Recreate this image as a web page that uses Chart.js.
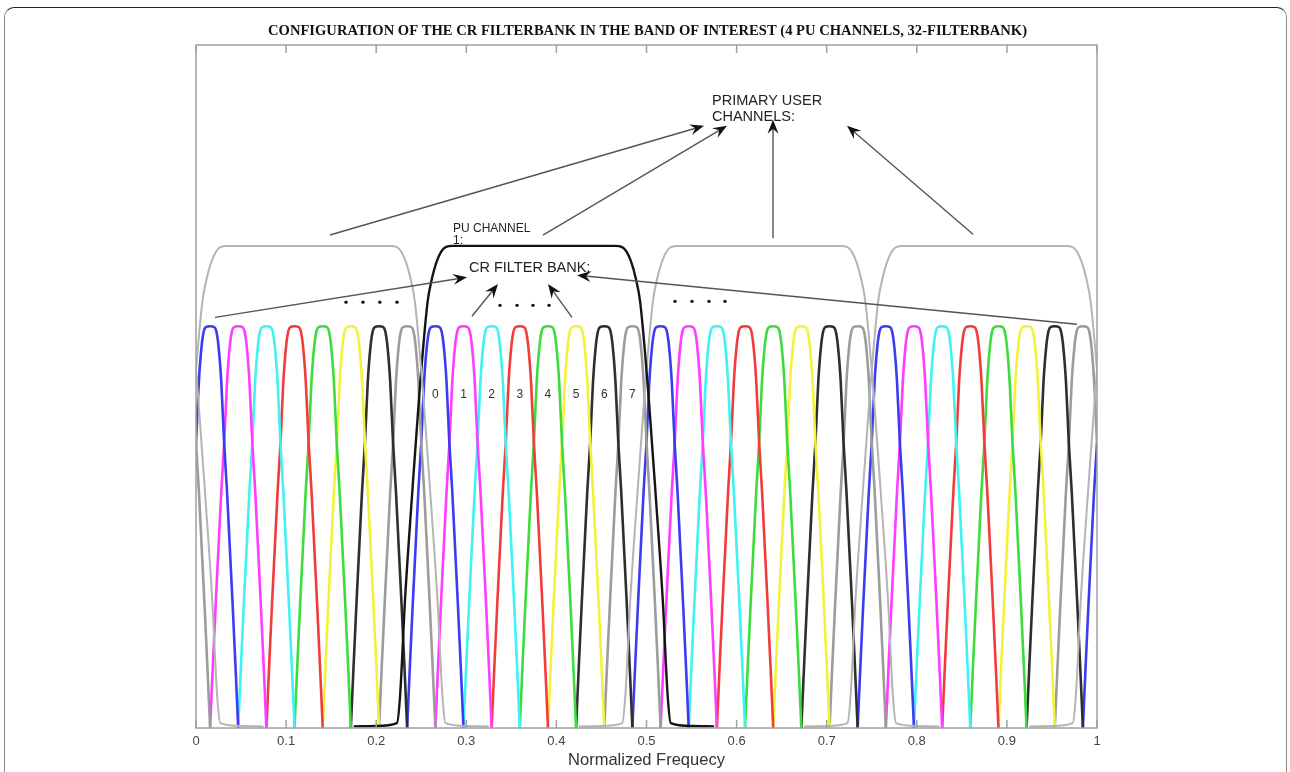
<!DOCTYPE html>
<html>
<head>
<meta charset="utf-8">
<script src="https://cdn.jsdelivr.net/npm/chart.js@4.4.0/dist/chart.umd.min.js"></script>
<style>
  body { margin: 0; background: #fff; overflow: hidden; }
  #frame {
    position: absolute; left: 4px; top: 7px; width: 1283px; height: 800px;
    border: 1.5px solid #8a8a8a; border-top-color: #222; border-radius: 10px;
    box-sizing: border-box;
  }
  #bankChart { position: absolute; left: 0; top: 0; }
</style>
</head>
<body>
<div id="frame"></div>
<canvas id="bankChart" width="1290" height="772"></canvas>
<script>
// CR filterbank: 32 sub-band filters (plus the wrapped neighbours at each edge)
const filterCenters = [-0.0156, 0.0156, 0.0469, 0.0781, 0.1094, 0.1406, 0.1719, 0.2031,
  0.2344, 0.2656, 0.2969, 0.3281, 0.3594, 0.3906, 0.4219, 0.4531,
  0.4844, 0.5156, 0.5469, 0.5781, 0.6094, 0.6406, 0.6719, 0.7031,
  0.7344, 0.7656, 0.7969, 0.8281, 0.8594, 0.8906, 0.9219, 0.9531,
  0.9844, 1.0156];
const filterColors = ['#3b3bf2', '#ff3cff', '#40f2f2', '#f23c3c', '#3cdc3c', '#f2f23c', '#2e2e2e', '#9c9c9c'];

// one side of the sub-band filter magnitude (offset from centre, gain)
const filterOffsets = [0, 0.0047, 0.0069, 0.0094, 0.0125, 0.0156, 0.0188, 0.0219, 0.025, 0.0281, 0.03125];
const filterGains = [1.0, 0.998, 0.988, 0.95, 0.86, 0.71, 0.59, 0.45, 0.31, 0.16, 0.0];

// primary user channels (4 in band, wrapped copies at each edge)
const puCenters = [-0.125, 0.125, 0.375, 0.625, 0.875, 1.125];
const puColors = ['#b4b4b4', '#b4b4b4', '#141414', '#b4b4b4', '#b4b4b4', '#b4b4b4'];
const puOffsets = [0, 0.09, 0.098, 0.103, 0.108, 0.113, 0.118, 0.1275, 0.1355, 0.143, 0.1485, 0.152, 0.175, 0.2];
const puGains = [1.2, 1.2, 1.197, 1.185, 1.16, 1.12, 1.06, 0.82, 0.57, 0.32, 0.08, 0.012, 0.005, 0.004];

// sub-band numbers inside PU channel 1
const bandLabels = ['0', '1', '2', '3', '4', '5', '6', '7'];
const bandLabelY = 0.83;

// the "...." marks
const dotX = [0.1665, 0.1853, 0.204, 0.2231, 0.3374, 0.3563, 0.374, 0.3918, 0.5316, 0.5505, 0.5694, 0.5871];
const dotY = [1.06, 1.06, 1.06, 1.06, 1.052, 1.052, 1.052, 1.052, 1.062, 1.062, 1.062, 1.062];

// annotation text and arrows, in data units
const notes = [
  { text: 'PRIMARY USER', x: 0.5727, y: 1.560, size: 14.5 },
  { text: 'CHANNELS:', x: 0.5727, y: 1.520, size: 14.5 },
  { text: 'PU CHANNEL', x: 0.2852, y: 1.242, size: 12 },
  { text: '1:', x: 0.2852, y: 1.213, size: 12 },
  { text: 'CR FILTER BANK:', x: 0.3030, y: 1.145, size: 14.5 }
];
const arrows = [
  [0.1487, 1.227, 0.5638, 1.499],
  [0.3851, 1.227, 0.5893, 1.499],
  [0.6404, 1.219, 0.6404, 1.514],
  [0.8624, 1.229, 0.7225, 1.499],
  [0.0211, 1.022, 0.3008, 1.122],
  [0.3063, 1.025, 0.3352, 1.105],
  [0.4173, 1.022, 0.3907, 1.105],
  [0.9778, 1.005, 0.4229, 1.127]
];

function profile(center, offsets, gains) {
  const pts = [];
  for (let i = offsets.length - 1; i > 0; i--) pts.push({ x: center - offsets[i], y: gains[i] });
  for (let i = 0; i < offsets.length; i++) pts.push({ x: center + offsets[i], y: gains[i] });
  return pts;
}

const datasets = [];
puCenters.forEach((c, i) => {
  datasets.push({
    data: profile(c, puOffsets, puGains),
    borderColor: puColors[i],
    borderWidth: i === 2 ? 2.4 : 2
  });
});
filterCenters.forEach((c, i) => {
  datasets.push({
    data: profile(c, filterOffsets, filterGains),
    borderColor: filterColors[(i + 7) % 8],
    borderWidth: 2.6
  });
});
datasets.forEach(d => Object.assign(d, {
  pointRadius: 0, fill: false, cubicInterpolationMode: 'monotone', clip: 0
}));
datasets.push({
  data: dotX.map((x, i) => ({ x, y: dotY[i] })),
  showLine: false, pointRadius: 1.7, pointBackgroundColor: '#111', pointBorderWidth: 0
});

const decorations = {
  id: 'decorations',
  afterDraw(chart) {
    const { ctx, chartArea: a, scales: { x, y } } = chart;
    ctx.save();

    // title
    const title = 'CONFIGURATION OF THE CR FILTERBANK IN THE BAND OF INTEREST (4 PU CHANNELS, 32-FILTERBANK)';
    ctx.font = 'bold 15px "Liberation Serif", "Times New Roman", serif';
    ctx.fillStyle = '#111';
    ctx.textAlign = 'center';
    ctx.textBaseline = 'middle';
    const w = ctx.measureText(title).width;
    ctx.translate(647.5, 31);
    ctx.scale(759 / w, 1);
    ctx.fillText(title, 0, 0);
    ctx.setTransform(1, 0, 0, 1, 0, 0);

    // plot box and inward ticks
    ctx.strokeStyle = '#a0a0a0';
    ctx.lineWidth = 1.5;
    ctx.strokeRect(a.left, a.top, a.right - a.left, a.bottom - a.top);
    ctx.beginPath();
    x.ticks.forEach(t => {
      const px = x.getPixelForValue(t.value);
      ctx.moveTo(px, a.bottom); ctx.lineTo(px, a.bottom - 8);
      ctx.moveTo(px, a.top); ctx.lineTo(px, a.top + 8);
    });
    ctx.stroke();

    // band numbers
    ctx.fillStyle = '#333';
    ctx.font = '12px "Liberation Sans", Arial, sans-serif';
    bandLabels.forEach((s, i) => {
      ctx.fillText(s, x.getPixelForValue(filterCenters[i + 9]), y.getPixelForValue(bandLabelY));
    });

    // notes
    ctx.textAlign = 'left';
    notes.forEach(n => {
      ctx.font = n.size + 'px "Liberation Sans", Arial, sans-serif';
      ctx.fillStyle = '#222';
      ctx.fillText(n.text, x.getPixelForValue(n.x), y.getPixelForValue(n.y));
    });

    // arrows
    arrows.forEach(([x0, y0, x1, y1]) => {
      const ax = x.getPixelForValue(x0), ay = y.getPixelForValue(y0);
      const bx = x.getPixelForValue(x1), by = y.getPixelForValue(y1);
      const ang = Math.atan2(by - ay, bx - ax);
      ctx.strokeStyle = '#555';
      ctx.lineWidth = 1.4;
      ctx.beginPath();
      ctx.moveTo(ax, ay);
      ctx.lineTo(bx - 8 * Math.cos(ang), by - 8 * Math.sin(ang));
      ctx.stroke();
      ctx.save();
      ctx.translate(bx, by);
      ctx.rotate(ang);
      ctx.fillStyle = '#111';
      ctx.beginPath();
      ctx.moveTo(0, 0);
      ctx.lineTo(-14, -5.5);
      ctx.lineTo(-9, 0);
      ctx.lineTo(-14, 5.5);
      ctx.closePath();
      ctx.fill();
      ctx.restore();
    });
    ctx.restore();
  }
};

new Chart(document.getElementById('bankChart'), {
  type: 'line',
  data: { datasets },
  options: {
    responsive: false,
    animation: false,
    devicePixelRatio: 1,
    layout: { padding: { left: 196, right: 193, top: 45, bottom: 0 } },
    plugins: { legend: { display: false }, tooltip: { enabled: false } },
    scales: {
      x: {
        type: 'linear', min: 0, max: 1,
        ticks: {
          stepSize: 0.1, color: '#444', padding: 6, maxRotation: 0,
          font: { family: '"Liberation Sans", Arial, sans-serif', size: 13 },
          callback: v => String(Number(v.toFixed(1)))
        },
        grid: { display: false, drawTicks: false },
        border: { display: false },
        title: {
          display: true, text: 'Normalized Frequecy', color: '#333',
          font: { family: '"Liberation Sans", Arial, sans-serif', size: 16.5 },
          padding: { top: 0, bottom: 2 }
        },
        afterFit(scale) { scale.height = 44; }
      },
      y: { display: false, min: 0, max: 1.7 }
    }
  },
  plugins: [decorations]
});
</script>
</body>
</html>
